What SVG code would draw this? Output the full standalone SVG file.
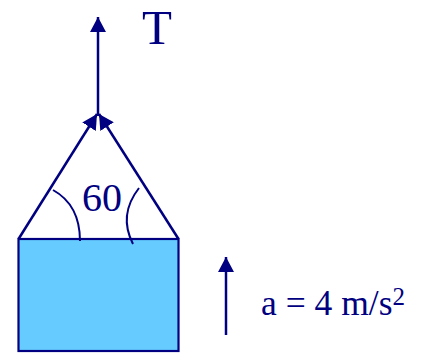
<svg xmlns="http://www.w3.org/2000/svg" width="425" height="354" viewBox="0 0 425 354">
<style>
.ln{stroke:#000080;stroke-width:2.5;fill:none}
.arc{stroke:#000080;stroke-width:2;fill:none}
.tx{font-family:"Liberation Serif","Times New Roman",serif;fill:#000080}
</style>
<defs>
<marker id="ah" markerUnits="userSpaceOnUse" viewBox="0 0 15 16" markerWidth="15" markerHeight="16" refX="15" refY="8" orient="auto">
<path d="M0,0 L15,8 L0,16 z" fill="#000080"/>
</marker>
</defs>
<rect width="425" height="354" fill="#ffffff"/>
<g id="block">
<rect x="18.5" y="239" width="160" height="112" fill="#66ccff" stroke="#000080" stroke-width="2.2"/>
</g>
<g id="angle">
<path class="arc" d="M53,190 Q80,205 80,241"/>
<path class="arc" d="M139,188 Q118,215 133,244"/>
<text class="tx" x="82" y="211" font-size="40">60</text>
</g>
<g id="labelT">
<text class="tx" x="142" y="44" font-size="49">T</text>
</g>
<g id="labelA">
<text class="tx" x="261" y="315" font-size="35.5">a = 4 m/s<tspan font-size="25" dy="-10">2</tspan></text>
</g>
<g id="connectors">
<line class="ln" x1="18.5" y1="239" x2="97" y2="114" marker-end="url(#ah)"/>
<line class="ln" x1="178.5" y1="239" x2="99" y2="114" marker-end="url(#ah)"/>
<line class="ln" x1="98" y1="116" x2="98" y2="17" marker-end="url(#ah)"/>
<line class="ln" x1="226" y1="335" x2="226" y2="257" marker-end="url(#ah)"/>
</g>
</svg>
